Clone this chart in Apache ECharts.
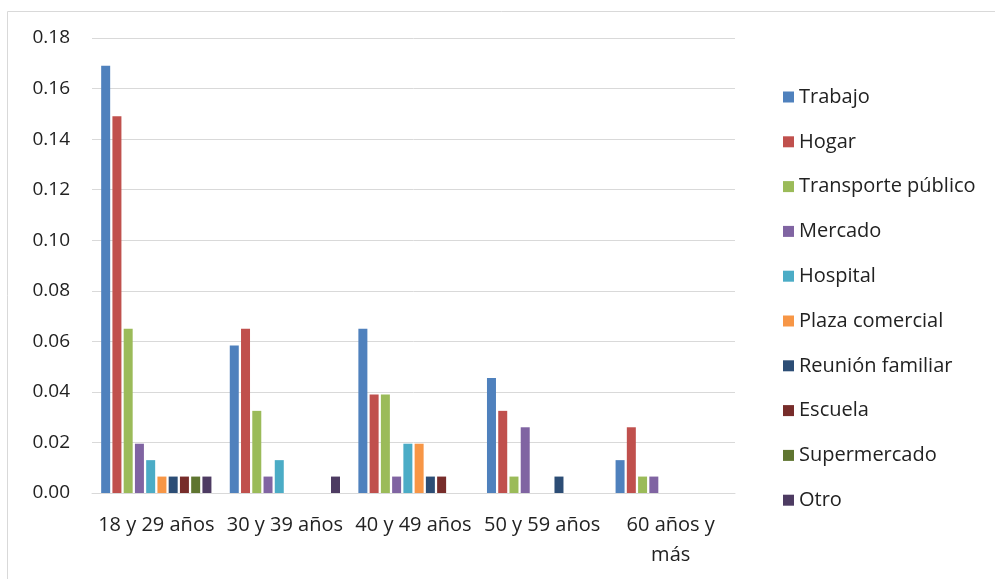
<!DOCTYPE html>
<html>
<head>
<meta charset="utf-8">
<script src="https://cdn.jsdelivr.net/npm/echarts@6/dist/echarts.min.js"></script>
<style>html,body{margin:0;padding:0;background:#fff}#c{width:995px;height:579px}</style>
</head>
<body>
<div id="c"></div>
<script>
const categories = ['18 y 29 años', '30 y 39 años', '40 y 49 años', '50 y 59 años', '60 años y más'];
const seriesNames = ['Trabajo', 'Hogar', 'Transporte público', 'Mercado', 'Hospital', 'Plaza comercial', 'Reunión familiar', 'Escuela', 'Supermercado', 'Otro'];
const trabajo = [0.169, 0.0584, 0.065, 0.0455, 0.013];
const hogar = [0.149, 0.065, 0.039, 0.0325, 0.026];
const transporte = [0.065, 0.0325, 0.039, 0.0065, 0.0065];
const mercado = [0.0195, 0.0065, 0.0065, 0.026, 0.0065];
const hospital = [0.013, 0.013, 0.0195, 0, 0];
const plaza = [0.0065, 0, 0.0195, 0, 0];
const reunion = [0.0065, 0, 0.0065, 0.0065, 0];
const escuela = [0.0065, 0, 0.0065, 0, 0];
const supermercado = [0.0065, 0, 0, 0, 0];
const otro = [0.0065, 0.0065, 0, 0, 0];
const yTicks = [0, 0.02, 0.04, 0.06, 0.08, 0.10, 0.12, 0.14, 0.16, 0.18];

const allData = [trabajo, hogar, transporte, mercado, hospital, plaza, reunion, escuela, supermercado, otro];
const colors = ['#4F81BD', '#C0504D', '#9BBB59', '#8064A2', '#4BACC6', '#F79646', '#2C4D75', '#772C2A', '#5F7530', '#4D3B62'];
const font = '"Open Sans", "Noto Sans", sans-serif';

const chart = echarts.init(document.getElementById('c'), null, {renderer: 'canvas'});
chart.setOption({
  animation: false,
  color: colors,
  textStyle: {fontFamily: font},
  graphic: [{
    type: 'rect', left: 5, top: 9, shape: {width: 1000, height: 600},
    style: {fill: 'none', stroke: '#d9d9d9', lineWidth: 1}, silent: true
  }],
  grid: {left: 92, right: 260, top: 38, bottom: 86},
  legend: {
    orient: 'vertical', left: 778, top: 82,
    itemWidth: 11, itemHeight: 11, itemGap: 24.8,
    icon: 'rect',
    textStyle: {fontSize: 20, color: '#222', fontFamily: font, lineHeight: 19, padding: [0,0,0,0]},
    data: seriesNames
  },
  xAxis: {
    type: 'category', data: categories,
    axisLine: {lineStyle: {color: '#d9d9d9', width: 1}},
    axisTick: {show: false},
    axisLabel: {
      fontSize: 20, color: '#222', margin: 17, interval: 0, fontFamily: font, lineHeight: 30,
      formatter: v => v === '60 años y más' ? '60 años y\nmás' : v
    }
  },
  yAxis: {
    type: 'value', min: 0, max: 0.18, interval: 0.02,
    axisLine: {show: false}, axisTick: {show: false},
    splitLine: {lineStyle: {color: '#d9d9d9', width: 1}},
    axisLabel: {fontSize: 19, color: '#222', margin: 22, fontFamily: font,
      formatter: v => v.toFixed(2)}
  },
  series: seriesNames.map((n, i) => ({
    name: n, type: 'bar', data: allData[i], barWidth: 9, barGap: '25%',
    itemStyle: {color: colors[i]}
  }))
});
</script>
</body>
</html>
